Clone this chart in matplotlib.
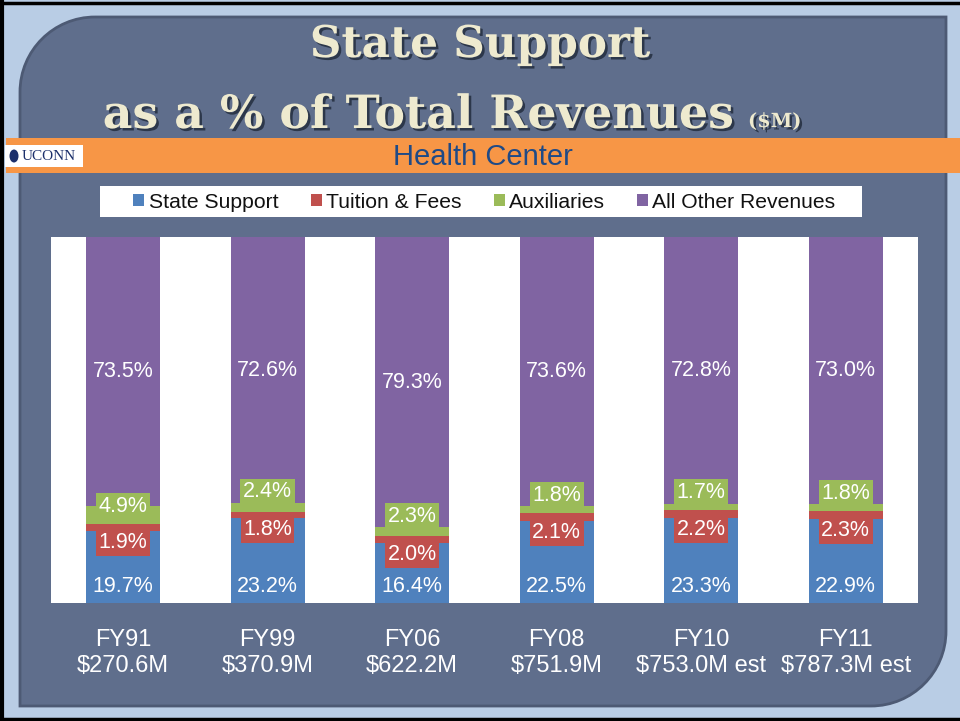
import matplotlib
matplotlib.use("Agg")
import matplotlib.pyplot as plt
import matplotlib.patches as mpatches
from matplotlib.path import Path
import matplotlib.patheffects as pe
import numpy as np

plt.rcParams['font.family'] = ['Liberation Sans', 'DejaVu Sans']

# ---- data ----
years = ['FY91', 'FY99', 'FY06', 'FY08', 'FY10', 'FY11']
totals = ['$270.6M', '$370.9M', '$622.2M', '$751.9M', '$753.0M est', '$787.3M est']
state_support = [19.7, 23.2, 16.4, 22.5, 23.3, 22.9]
tuition_fees = [1.9, 1.8, 2.0, 2.1, 2.2, 2.3]
auxiliaries = [4.9, 2.4, 2.3, 1.8, 1.7, 1.8]
all_other = [73.5, 72.6, 79.3, 73.6, 72.8, 73.0]
series_names = ['State Support', 'Tuition & Fees', 'Auxiliaries', 'All Other Revenues']

colors = ['#4f81bd', '#c0504d', '#9bbb59', '#8064a2']

W, H = 960, 721
fig = plt.figure(figsize=(W / 100, H / 100), dpi=100)
fig.patch.set_facecolor('#b9cde5')

# background axes in pixel coordinates
bg = fig.add_axes([0, 0, 1, 1], zorder=-1)
bg.set_xlim(0, W)
bg.set_ylim(H, 0)
bg.axis('off')

# outer black frame
bg.plot([1.5, 1.5], [0, H], color='black', lw=3)
bg.plot([0, W], [3, 3], color='black', lw=2.5)
bg.plot([0, W], [718.5, 718.5], color='black', lw=2.5)

# slate panel with two rounded corners
L, T, R_, B = 20, 17, 946, 706
rad = 75
k = 0.5523
verts = [
    (L + rad, T), (R_, T), (R_, B - rad),
    (R_, B - rad + k * rad), (R_ - rad + k * rad, B), (R_ - rad, B),
    (L, B), (L, T + rad),
    (L, T + rad - k * rad), (L + rad - k * rad, T), (L + rad, T),
]
codes = [Path.MOVETO, Path.LINETO, Path.LINETO,
         Path.CURVE4, Path.CURVE4, Path.CURVE4,
         Path.LINETO, Path.LINETO,
         Path.CURVE4, Path.CURVE4, Path.CURVE4]
panel = mpatches.PathPatch(Path(verts, codes), facecolor='#5f6e8c',
                           edgecolor='#4d5a74', lw=2.0)
bg.add_patch(panel)

# orange band
bg.add_patch(mpatches.Rectangle((6, 138), W - 6, 35, facecolor='#f79646', edgecolor='none'))
bg.text(483, 157, 'Health Center', fontsize=21, color='#1f4a86', ha='center', va='center')

# UCONN logo box
bg.add_patch(mpatches.Rectangle((5, 145), 78, 22, facecolor='white', edgecolor='none'))
bg.add_patch(mpatches.Ellipse((14, 156), 9, 13, facecolor='#1b2f6b', edgecolor='none'))
bg.text(22, 157, 'UCONN', fontsize=11, color='#1b2f6b', ha='left', va='center',
        family=['Liberation Serif', 'DejaVu Serif'])

# title
shadow = [pe.SimplePatchShadow(offset=(1.8, -1.8), shadow_rgbFace='#202a3a', alpha=0.8), pe.Normal()]
bg.text(480, 57, 'State Support', fontsize=31.5, fontweight='bold', color='#eeeacf',
        family=['DejaVu Serif'], ha='center', va='baseline', path_effects=shadow)
bg.text(419, 128, 'as a % of Total Revenues', fontsize=33, fontweight='bold', color='#eeeacf',
        family=['DejaVu Serif'], ha='center', va='baseline', path_effects=shadow)
bg.text(748, 127, '($M)', fontsize=14, fontweight='bold', color='#eeeacf',
        family=['DejaVu Serif'], ha='left', va='baseline', path_effects=shadow)

# legend white box
bg.add_patch(mpatches.Rectangle((100, 186), 762, 31, facecolor='white', edgecolor='none'))

# ---- chart axes ----
left, right, top, bottom = 50.7, 918, 237.3, 603
ax = fig.add_axes([left / W, 1 - bottom / H, (right - left) / W, (bottom - top) / H])
ax.set_facecolor('white')
for s in ax.spines.values():
    s.set_visible(False)

x = np.arange(len(years))
bw = 0.512
data = [state_support, tuition_fees, auxiliaries, all_other]
bottoms = np.zeros(len(years))
tops = []
for vals, c, name in zip(data, colors, series_names):
    vals = np.array(vals)
    ax.bar(x, vals, bw, bottom=bottoms, color=c, edgecolor='none', label=name, zorder=2)
    bottoms = bottoms + vals
    tops.append(bottoms.copy())

ax.set_xlim(-0.5, len(years) - 0.5)
ax.set_ylim(0, 100)
ax.set_yticks([])
ax.set_xticks(x)
ax.set_xticklabels([f'{y}\n{t}' for y, t in zip(years, totals)], fontsize=17, color='white',
                   linespacing=1.26)
ax.tick_params(axis='x', length=0, pad=18.5)

lbl_kw = dict(fontsize=15.5, color='white', ha='center', va='center', zorder=5)
for i in range(len(years)):
    s_top, t_top, a_top = tops[0][i], tops[1][i], tops[2][i]
    # state support label near base
    ax.text(x[i], 4.6, f'{state_support[i]:.1f}%', **lbl_kw)
    # tuition label just below its segment
    ax.text(x[i], s_top - 3.2, f'{tuition_fees[i]:.1f}%',
            bbox=dict(boxstyle='square,pad=0.12', facecolor=colors[1], edgecolor='none'), **lbl_kw)
    # auxiliaries label just above its segment
    ya = a_top + 3.0 - max(0.0, auxiliaries[i] - 2.5) * 1.3
    ax.text(x[i], ya, f'{auxiliaries[i]:.1f}%',
            bbox=dict(boxstyle='square,pad=0.12', facecolor=colors[2], edgecolor='none'), **lbl_kw)
    # all other label at segment centre
    ax.text(x[i], (a_top + 100) / 2, f'{all_other[i]:.1f}%', **lbl_kw)

handles = [mpatches.Patch(facecolor=c, edgecolor='none') for c in colors]
fig.legend(handles, series_names, loc='center', bbox_to_anchor=(484.5 / W, 1 - 202 / H),
           ncol=4, frameon=False, fontsize=15.2, handlelength=0.52, handleheight=0.52,
           handletextpad=0.21, columnspacing=1.52, labelcolor='#111111')

fig.savefig('out.png', dpi=100, facecolor=fig.get_facecolor())
